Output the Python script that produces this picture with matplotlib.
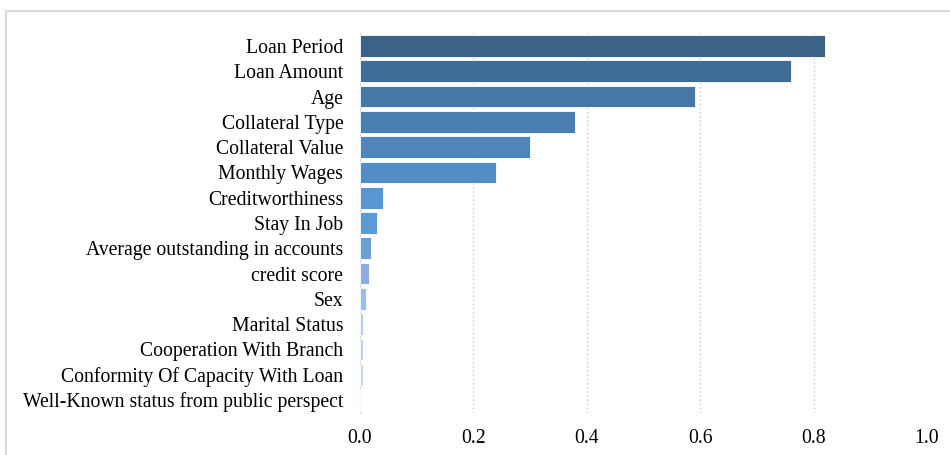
import matplotlib.pyplot as plt
import matplotlib.patches as mpatches

features = [
    "Loan Period",
    "Loan Amount",
    "Age",
    "Collateral Type",
    "Collateral Value",
    "Monthly Wages",
    "Creditworthiness",
    "Stay In Job",
    "Average outstanding in accounts",
    "credit score",
    "Sex",
    "Marital Status",
    "Cooperation With Branch",
    "Conformity Of Capacity With Loan",
    "Well-Known status from public perspect",
]
importance = [0.82, 0.76, 0.59, 0.38, 0.30, 0.24, 0.04, 0.03, 0.02, 0.015,
              0.01, 0.005, 0.005, 0.005, 0.001]
bar_colors = ["#3a6387", "#3f6d98", "#4577a7", "#4a7fb1", "#4e86bc",
              "#528dc6", "#5896d1", "#5b9bd5", "#6d9fd6", "#89afdc",
              "#9fbde2", "#b6cbe6", "#c0d1ea", "#ccdaee", "#dde5f0"]
xticks = [0.0, 0.2, 0.4, 0.6, 0.8, 1.0]

plt.rcParams["font.family"] = ["Liberation Serif", "DejaVu Serif"]

fig = plt.figure(figsize=(9.5, 4.55), dpi=100)
fig.patches.append(mpatches.Rectangle((6 / 950, -0.05), 1.2, 1 - 11 / 455 + 0.05,
                                      transform=fig.transFigure, fill=False,
                                      edgecolor="#d9d9d9", linewidth=1.5))

ax = fig.add_axes([360 / 950, 0.0932, (927 - 360) / 950, 0.9266 - 0.0932])
ypos = range(len(features))
ax.barh(ypos, importance, height=0.86, color=bar_colors,
        edgecolor="#ffffff", linewidth=0.6, zorder=3)
ax.set_ylim(len(features) - 0.5, -0.5)
ax.set_yticks(list(ypos))
ax.set_yticklabels(features)
ax.set_xlim(0, 1.0)
ax.set_xticks(xticks)
ax.set_xticklabels([f"{t:.1f}" for t in xticks])

for t in xticks[1:]:
    ax.axvline(t, color="#c8c8c8", linestyle=(0, (1, 2)), linewidth=1, zorder=1)

for s in ["top", "right", "bottom"]:
    ax.spines[s].set_visible(False)
ax.spines["left"].set_color("#d9d9d9")
ax.tick_params(axis="both", length=0, labelsize=14.2, colors="#000000")
ax.tick_params(axis="x", pad=12)
ax.tick_params(axis="y", pad=12)

fig.savefig("out.png", dpi=100)
